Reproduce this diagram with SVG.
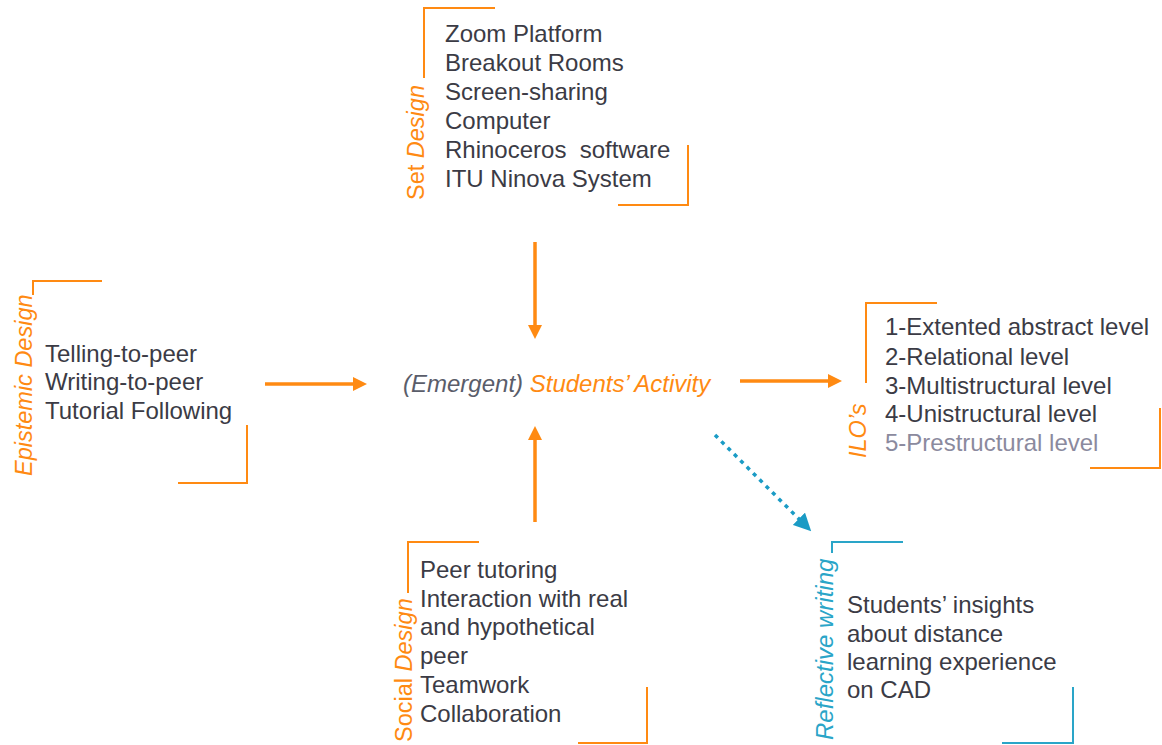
<svg xmlns="http://www.w3.org/2000/svg" width="1162" height="745" viewBox="0 0 1162 745">
<defs>
<style>
.t{font-family:"Liberation Sans",Arial,Helvetica,sans-serif;font-size:24px;fill:#3b3b45}
.lab{font-family:"Liberation Sans",Arial,Helvetica,sans-serif;font-size:23.5px;fill:#ff8a12}
.blab{font-family:"Liberation Sans",Arial,Helvetica,sans-serif;font-size:24px;fill:#2aa5c8;font-style:italic}
.it{font-style:italic}
.br{fill:none;stroke:#ff8a12;stroke-width:2}
.bb{fill:none;stroke:#2aa5c8;stroke-width:2}
.ar{fill:none;stroke:#ff8a12;stroke-width:3.5}
</style>
<marker id="ah" viewBox="0 0 10 10" refX="5" refY="5" markerWidth="4" markerHeight="4" orient="auto" markerUnits="strokeWidth">
<path d="M0,0 L10,5 L0,10 z" fill="#ff8a12"/>
</marker>
<marker id="ahb" viewBox="0 0 10 10" refX="5" refY="5" markerWidth="5" markerHeight="5" orient="auto" markerUnits="strokeWidth">
<path d="M0,0 L10,5 L0,10 z" fill="#1a9bc5"/>
</marker>
</defs>
<rect width="1162" height="745" fill="#ffffff"/>

<g id="set-design">
<path class="br" d="M495,8 H424 V78"/>
<path class="br" d="M618,205 H688 V145"/>
<text class="lab" transform="translate(424,200) rotate(-90)">Set <tspan class="it">Design</tspan></text>
<text class="t" x="445" y="42">Zoom Platform</text>
<text class="t" x="445" y="71">Breakout Rooms</text>
<text class="t" x="445" y="100">Screen-sharing</text>
<text class="t" x="445" y="129">Computer</text>
<text class="t" x="445" y="158" xml:space="preserve">Rhinoceros  software</text>
<text class="t" x="445" y="187">ITU Ninova System</text>
</g>

<g id="epistemic-design">
<path class="br" d="M102,281 H33 V295"/>
<path class="br" d="M178,483 H247 V425"/>
<text class="lab it" transform="translate(32,476) rotate(-90)">Epistemic Design</text>
<text class="t" x="45" y="362">Telling-to-peer</text>
<text class="t" x="45" y="390">Writing-to-peer</text>
<text class="t" x="45" y="419">Tutorial Following</text>
</g>

<g id="students-activity">
<text x="403" y="392" style="font-family:'Liberation Sans',Arial,Helvetica,sans-serif;font-size:24px;font-style:italic"><tspan fill="#5a5d6a">(Emergent) </tspan><tspan fill="#ff8a12">Students’ Activity</tspan></text>
</g>

<g id="ilos">
<path class="br" d="M937,303 H866 V383"/>
<path class="br" d="M1090,468 H1160 V408"/>
<text class="lab it" transform="translate(866,458) rotate(-90)">ILO’s</text>
<text class="t" x="885" y="335">1-Extented abstract level</text>
<text class="t" x="885" y="365">2-Relational level</text>
<text class="t" x="885" y="394">3-Multistructural level</text>
<text class="t" x="885" y="422">4-Unistructural level</text>
<text class="t" x="885" y="451" style="fill:#8b8a9e">5-Prestructural level</text>
</g>

<g id="social-design">
<path class="br" d="M479,542 H408 V593"/>
<path class="br" d="M578,743 H647 V687"/>
<text class="lab" transform="translate(412,742) rotate(-90)">Social <tspan class="it">Design</tspan></text>
<text class="t" x="420" y="578">Peer tutoring</text>
<text class="t" x="420" y="607">Interaction with real</text>
<text class="t" x="420" y="635">and hypothetical</text>
<text class="t" x="420" y="664">peer</text>
<text class="t" x="420" y="693">Teamwork</text>
<text class="t" x="420" y="722">Collaboration</text>
</g>

<g id="reflective-writing">
<path class="bb" d="M903,542 H832 V553"/>
<path class="bb" d="M1002,743 H1073 V687"/>
<text class="blab" transform="translate(833,740) rotate(-90)">Reflective writing</text>
<text class="t" x="847" y="613">Students’ insights</text>
<text class="t" x="847" y="642">about distance</text>
<text class="t" x="847" y="670">learning experience</text>
<text class="t" x="847" y="698">on CAD</text>
</g>

<g id="connectors">
<line class="ar" x1="535" y1="242" x2="535" y2="332" marker-end="url(#ah)"/>
<line class="ar" x1="535" y1="522" x2="535" y2="433" marker-end="url(#ah)"/>
<line class="ar" x1="265" y1="384" x2="360" y2="384" marker-end="url(#ah)"/>
<line class="ar" x1="740" y1="381" x2="835" y2="381" marker-end="url(#ah)"/>
<line x1="715" y1="435" x2="805" y2="525" stroke="#1a9bc5" stroke-width="3.5" stroke-dasharray="4,5" marker-end="url(#ahb)"/>
</g>
</svg>
